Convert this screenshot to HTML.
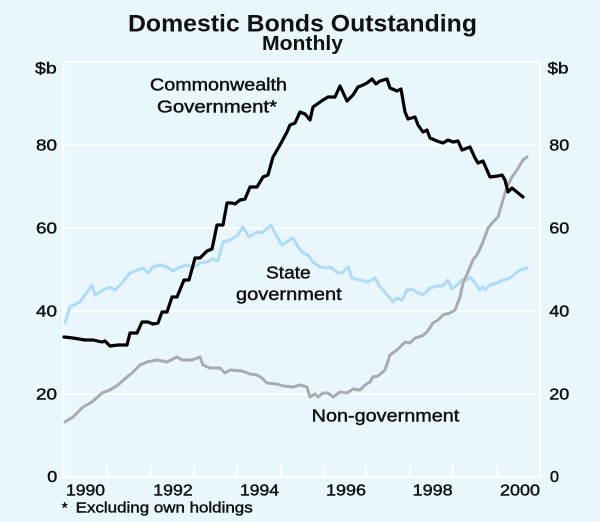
<!DOCTYPE html>
<html>
<head>
<meta charset="utf-8">
<style>
  html, body { margin: 0; padding: 0; background: #e9f6fb; }
  svg { display: block; }
  text { font-family: "Liberation Sans", Arial, sans-serif; fill: #111; }
  .lbl { stroke: #111; stroke-width: 0.45px; }
</style>
</head>
<body>
<svg width="600" height="522" viewBox="0 0 600 522" xmlns="http://www.w3.org/2000/svg">
  <rect x="0" y="0" width="600" height="522" fill="#e9f6fb"/>

  <!-- Title -->
  <text x="128" y="31.7" font-size="24.5" font-weight="bold" textLength="349" lengthAdjust="spacingAndGlyphs">Domestic Bonds Outstanding</text>
  <text x="262" y="50" font-size="20.5" font-weight="bold" textLength="81" lengthAdjust="spacingAndGlyphs">Monthly</text>

  <!-- Gridlines -->
  <g stroke="#ffffff" stroke-width="1.6" fill="none">
    <line x1="63.5" y1="394" x2="540" y2="394"/>
    <line x1="63.5" y1="311" x2="540" y2="311"/>
    <line x1="63.5" y1="228" x2="540" y2="228"/>
    <line x1="63.5" y1="145" x2="540" y2="145"/>
  </g>
  <!-- Frame -->
  <g stroke="#ffffff" stroke-width="2" fill="none">
    <line x1="63.5" y1="62" x2="540" y2="62"/>
    <line x1="63.5" y1="62" x2="63.5" y2="477"/>
    <line x1="540" y1="62" x2="540" y2="477"/>
    <line x1="62.5" y1="477" x2="541" y2="477"/>
  </g>
  <!-- X ticks -->
  <g stroke="#ffffff" stroke-width="2">
    <line x1="107" y1="465" x2="107" y2="477"/>
    <line x1="150.7" y1="465" x2="150.7" y2="477"/>
    <line x1="194" y1="465" x2="194" y2="477"/>
    <line x1="237" y1="465" x2="237" y2="477"/>
    <line x1="281" y1="465" x2="281" y2="477"/>
    <line x1="323.5" y1="465" x2="323.5" y2="477"/>
    <line x1="366" y1="465" x2="366" y2="477"/>
    <line x1="410" y1="465" x2="410" y2="477"/>
    <line x1="452.7" y1="465" x2="452.7" y2="477"/>
    <line x1="497.3" y1="465" x2="497.3" y2="477"/>
  </g>

  <!-- Series: State government (light blue) -->
  <polyline fill="none" stroke="#aedbf6" stroke-width="3" stroke-linejoin="round" stroke-linecap="round"
    points="65,323 70,307 80,302 85,295 92,285 95,295 103,290 110,287 115,290 122,283 130,273 137,270 143,268 148,273 153,267 160,265 167,267 173,271 180,267 187,265 193,268 200,263 207,262 213,259 218,261 223,242 230,240 237,236 243,227 249,237 257,232 262,233 271,225 275,233 282,245 290,240 293,238 298,247 303,253 308,255 313,262 320,267 327,268 330,267 338,273 343,272 348,267 352,278 360,280 368,282 375,278 380,287 385,292 390,298 393,302 397,298 402,300 407,290 412,289 418,293 423,295 430,288 437,286 443,286 448,280 452,289 457,285 462,280 467,280 470,277 475,283 480,290 483,287 485,290 490,285 497,283 503,280 510,278 520,270 527,268"/>

  <!-- Series: Non-government (grey) -->
  <polyline fill="none" stroke="#a9acae" stroke-width="3" stroke-linejoin="round" stroke-linecap="round"
    points="65,422 73,417 83,407 92,402 102,393 110,390 118,385 127,377 132,373 140,365 147,362 157,360 167,362 177,357 182,360 192,360 200,357 203,365 210,368 220,368 225,373 230,370 242,371 250,374 257,375 262,378 267,383 277,384 283,386 293,387 300,385 307,387 310,397 315,394 318,397 323,393 328,393 333,397 340,392 347,393 353,389 360,390 365,385 370,382 373,377 378,376 385,370 390,355 397,350 405,342 410,343 415,338 422,336 427,332 433,323 438,320 443,315 450,313 455,310 460,297 463,283 468,272 473,260 478,253 483,242 488,228 493,222 498,217 503,200 507,187 512,177 517,170 523,160 527,157"/>

  <!-- Series: Commonwealth Government (black) -->
  <polyline fill="none" stroke="#000000" stroke-width="3.2" stroke-linejoin="round" stroke-linecap="round"
    points="64,337 73,338 85,340 93,340 102,342 105,341 110,346 118,345 127,345 130,333 137,333 142,322 148,322 153,324 158,323 162,312 167,312 172,297 177,297 184,280 189,280 195,258 200,258 207,251 212,249 217,225 223,225 227,203 232,203 235,204 240,200 245,199 250,187 257,187 263,177 268,175 273,157 280,145 287,132 290,125 295,123 300,112 305,114 310,120 313,107 323,100 328,97 335,97 340,86 347,101 353,95 358,87 363,85 367,83 372,79 376,84 380,81 387,79 390,88 397,91 401,89 405,112 408,119 415,117 418,125 423,132 427,130 430,138 437,141 443,143 448,140 453,142 458,141 462,150 470,147 475,158 478,163 483,161 490,177 498,176 502,175 505,180 508,192 512,188 523,197"/>

  <!-- Y axis labels left -->
  <g font-size="16" class="lbl">
    <text x="35" y="73.5" textLength="21.7" lengthAdjust="spacingAndGlyphs">$b</text>
    <text x="36" y="150.5" textLength="21" lengthAdjust="spacingAndGlyphs">80</text>
    <text x="36" y="233.5" textLength="21" lengthAdjust="spacingAndGlyphs">60</text>
    <text x="36" y="316.5" textLength="21" lengthAdjust="spacingAndGlyphs">40</text>
    <text x="36" y="399.5" textLength="21" lengthAdjust="spacingAndGlyphs">20</text>
    <text x="47.3" y="482" textLength="10" lengthAdjust="spacingAndGlyphs">0</text>
  </g>
  <!-- Y axis labels right -->
  <g font-size="16" class="lbl">
    <text x="547.5" y="73.5" textLength="21" lengthAdjust="spacingAndGlyphs">$b</text>
    <text x="549.3" y="150.5" textLength="20" lengthAdjust="spacingAndGlyphs">80</text>
    <text x="549.3" y="233.5" textLength="20" lengthAdjust="spacingAndGlyphs">60</text>
    <text x="549.3" y="316.5" textLength="20" lengthAdjust="spacingAndGlyphs">40</text>
    <text x="549.3" y="399.5" textLength="20" lengthAdjust="spacingAndGlyphs">20</text>
    <text x="550" y="482" textLength="9" lengthAdjust="spacingAndGlyphs">0</text>
  </g>
  <!-- X axis labels -->
  <g font-size="16" class="lbl">
    <text x="66" y="495.7" textLength="39" lengthAdjust="spacingAndGlyphs">1990</text>
    <text x="153.3" y="495.7" textLength="39.4" lengthAdjust="spacingAndGlyphs">1992</text>
    <text x="240" y="495.7" textLength="39" lengthAdjust="spacingAndGlyphs">1994</text>
    <text x="326" y="495.7" textLength="40" lengthAdjust="spacingAndGlyphs">1996</text>
    <text x="412.7" y="495.7" textLength="40" lengthAdjust="spacingAndGlyphs">1998</text>
    <text x="500" y="495.7" textLength="40" lengthAdjust="spacingAndGlyphs">2000</text>
  </g>

  <!-- Series labels -->
  <g font-size="17.5" class="lbl">
    <text x="150" y="90.7" textLength="137" lengthAdjust="spacingAndGlyphs">Commonwealth</text>
    <text x="157" y="112.3" textLength="120" lengthAdjust="spacingAndGlyphs">Government*</text>
    <text x="266" y="278.3" textLength="44.7" lengthAdjust="spacingAndGlyphs">State</text>
    <text x="236" y="300" textLength="105.7" lengthAdjust="spacingAndGlyphs">government</text>
    <text x="311.7" y="421.7" textLength="147.6" lengthAdjust="spacingAndGlyphs">Non-government</text>
  </g>

  <!-- Footnote -->
  <g font-size="15" class="lbl">
    <text x="61.7" y="512.3">*</text>
    <text x="75.7" y="512.3" textLength="177" lengthAdjust="spacingAndGlyphs">Excluding own holdings</text>
  </g>
</svg>
</body>
</html>
